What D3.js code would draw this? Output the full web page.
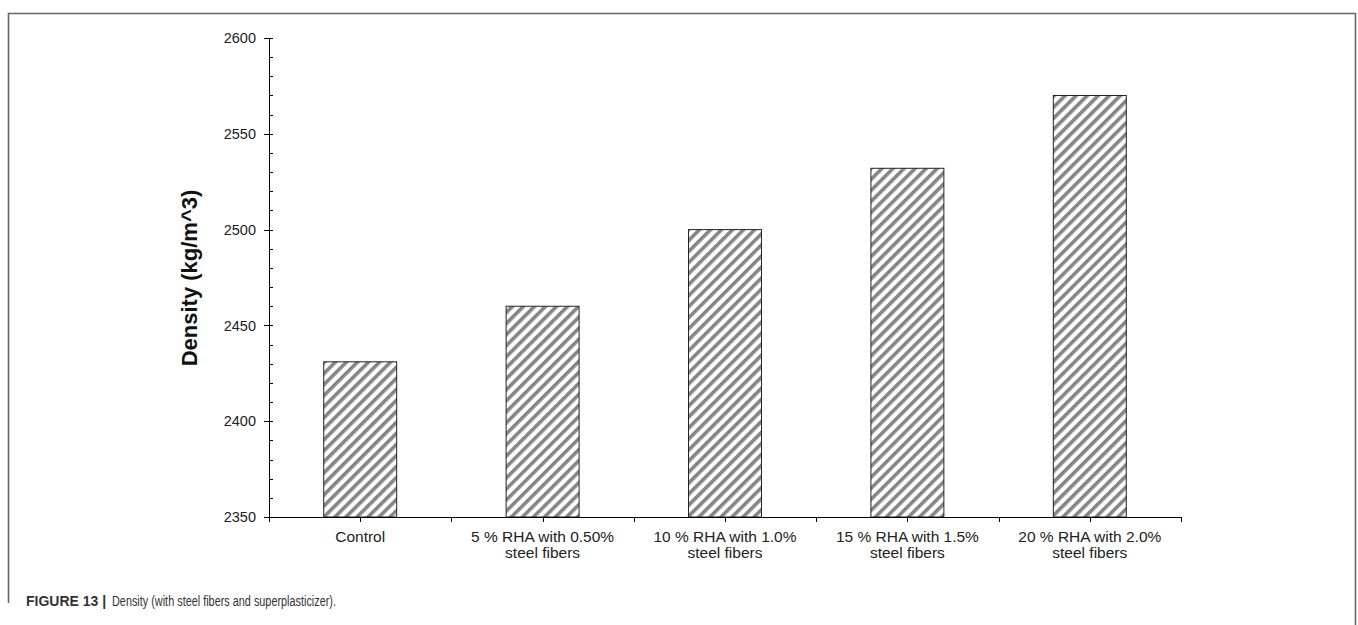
<!DOCTYPE html>
<html>
<head>
<meta charset="utf-8">
<script src="https://cdn.jsdelivr.net/npm/d3@7"></script>
<style>
  html, body { margin: 0; padding: 0; background: #fff; }
  svg { display: block; }
</style>
</head>
<body>
<svg id="chart" width="1358" height="625"></svg>
<script>
const categories = [
  ["Control"],
  ["5 % RHA with 0.50%", "steel fibers"],
  ["10 % RHA with 1.0%", "steel fibers"],
  ["15 % RHA with 1.5%", "steel fibers"],
  ["20 % RHA with 2.0%", "steel fibers"]
];
const densityValues = [2431, 2460, 2500, 2532, 2570];
const yMajorTicks = [2350, 2400, 2450, 2500, 2550, 2600];
const yMinorTicks = d3.range(2350, 2601, 10);
const yLabel = "Density (kg/m^3)";
const captionBold = "FIGURE 13 |";
const captionText = "Density (with steel fibers and superplasticizer).";

(function () {
const svg = d3.select("#chart");
const font = "'Liberation Sans', Arial, sans-serif";

// frame
svg.append("path")
  .attr("d", "M8.5,603 L8.5,13.5 L1355.5,13.5 L1355.5,625")
  .attr("fill", "none").attr("stroke", "#666").attr("stroke-width", 1.6);

// hatch pattern
const defs = svg.append("defs");
const pat = defs.append("pattern")
  .attr("id", "hatch").attr("patternUnits", "userSpaceOnUse")
  .attr("width", 7.8).attr("height", 7.8)
  .attr("patternTransform", "rotate(45)");
pat.append("rect").attr("width", 7.8).attr("height", 7.8).attr("fill", "#fff");
pat.append("rect").attr("width", 3.6).attr("height", 7.8).attr("fill", "#858585");

const pLeft = 269, pRight = 1181, pTop = 38, pBottom = 517;

const x = d3.scaleBand().domain(d3.range(categories.length)).range([pLeft, pRight]).paddingInner(0).paddingOuter(0);
const y = d3.scaleLinear().domain([2350, 2600]).range([pBottom, pTop]);

// bars
const bw = x.bandwidth() * 0.4;
svg.append("g").selectAll("rect").data(densityValues).join("rect")
  .attr("x", (d, i) => x(i) + (x.bandwidth() - bw) / 2)
  .attr("y", d => y(d))
  .attr("width", bw)
  .attr("height", d => y(2350) - y(d))
  .attr("fill", "url(#hatch)")
  .attr("stroke", "#222").attr("stroke-width", 1);

// y axis
const yAxis = d3.axisLeft(y).tickValues(yMajorTicks).tickSize(0).tickPadding(13).tickFormat(d3.format("d"));
const yg = svg.append("g").attr("transform", `translate(${pLeft},0)`).call(yAxis);
yg.select(".domain").attr("stroke", "#000").attr("stroke-width", 1);
yg.selectAll("text").attr("font-family", font).attr("font-size", 14.5).attr("fill", "#222");
// major ticks crossing axis
svg.append("g").selectAll("line").data(yMajorTicks).join("line")
  .attr("x1", pLeft - 5).attr("x2", pLeft + 4)
  .attr("y1", d => Math.round(y(d)) + 0.5).attr("y2", d => Math.round(y(d)) + 0.5)
  .attr("stroke", "#000");
// minor ticks inside
svg.append("g").selectAll("line").data(yMinorTicks.filter(v => !yMajorTicks.includes(v))).join("line")
  .attr("x1", pLeft).attr("x2", pLeft + 4)
  .attr("y1", d => Math.round(y(d)) + 0.5).attr("y2", d => Math.round(y(d)) + 0.5)
  .attr("stroke", "#000");

// x axis
svg.append("line").attr("x1", pLeft).attr("x2", pRight)
  .attr("y1", pBottom + 0.5).attr("y2", pBottom + 0.5).attr("stroke", "#000");
const xTickPos = d3.range(0, categories.length * 2 + 1).map(k => pLeft + k * x.bandwidth() / 2);
svg.append("g").selectAll("line").data(xTickPos).join("line")
  .attr("x1", d => Math.round(d) + 0.5).attr("x2", d => Math.round(d) + 0.5)
  .attr("y1", pBottom).attr("y2", pBottom + 5)
  .attr("stroke", "#000");

// category labels
const lab = svg.append("g").selectAll("text").data(categories).join("text")
  .attr("x", (d, i) => x(i) + x.bandwidth() / 2)
  .attr("y", 542)
  .attr("text-anchor", "middle")
  .attr("font-family", font).attr("font-size", 15.5).attr("fill", "#222");
lab.selectAll("tspan").data(d => d).join("tspan")
  .attr("x", function() { return this.parentNode.getAttribute("x"); })
  .attr("dy", (d, i) => i === 0 ? 0 : 16)
  .text(d => d);

// y label
svg.append("text")
  .attr("transform", `translate(197,278) rotate(-90)`)
  .attr("text-anchor", "middle")
  .attr("font-family", font).attr("font-size", 22).attr("font-weight", "bold").attr("fill", "#111")
  .text(yLabel);

// caption
svg.append("text").attr("x", 26).attr("y", 606)
  .attr("font-family", font).attr("font-size", 14).attr("font-weight", "bold").attr("fill", "#333")
  .text(captionBold);
svg.append("text").attr("x", 112).attr("y", 606)
  .attr("font-family", font).attr("font-size", 14).attr("fill", "#333")
  .attr("textLength", 224).attr("lengthAdjust", "spacingAndGlyphs")
  .text(captionText);
})();
</script>
</body>
</html>
